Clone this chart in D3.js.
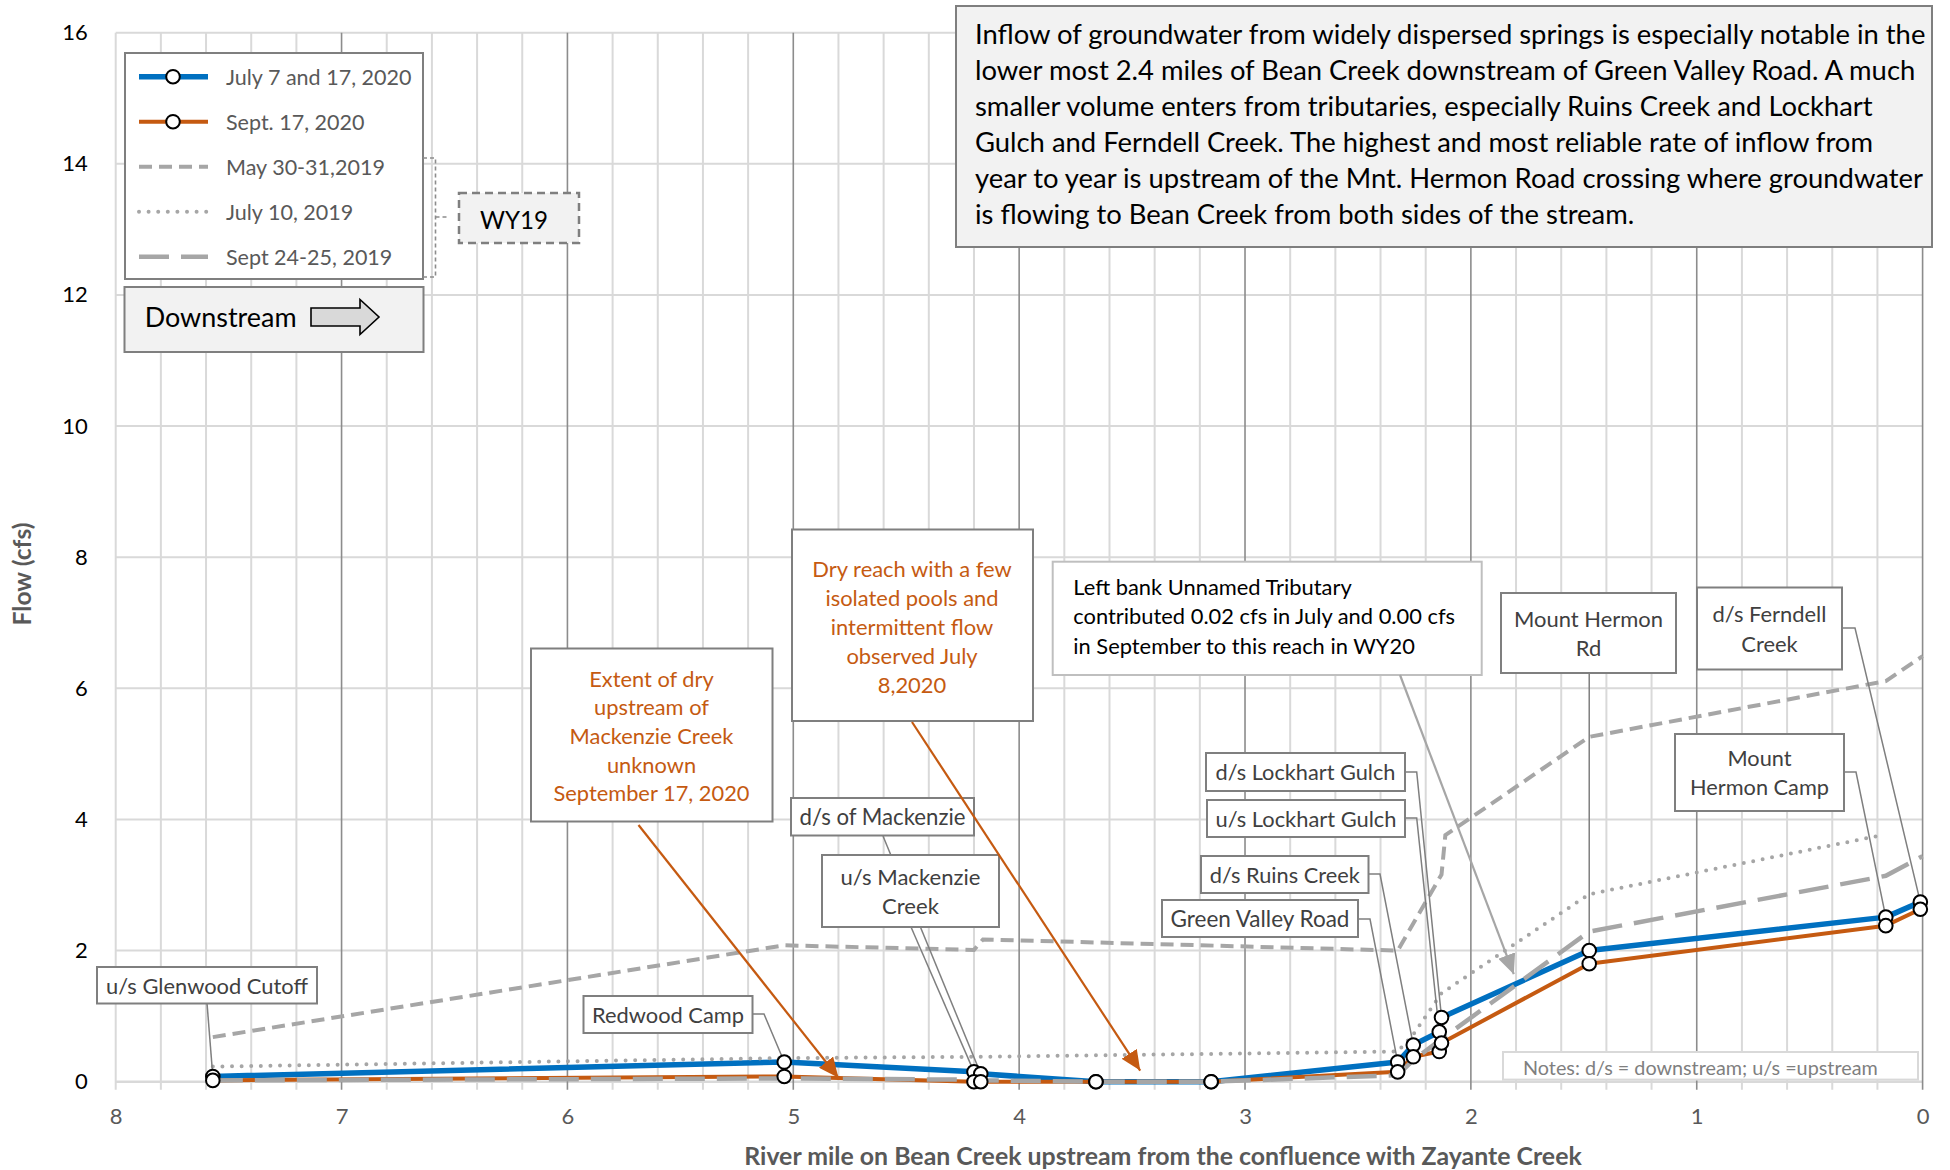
<!DOCTYPE html>
<html>
<head>
<meta charset="utf-8">
<script src="https://cdn.jsdelivr.net/npm/d3@7"></script>
<style>
  html, body { margin: 0; padding: 0; background: #fff; }
  svg { display: block; font-family: Lato, "Open Sans", sans-serif; }
</style>
</head>
<body>
<svg id="chart" width="1950" height="1170"></svg>
<script>
// ---- Data: Bean Creek flow surveys (cfs) by river mile upstream of Zayante Creek ----

// 2020 measurement sites (river mile)
const siteMiles2020 = [7.57, 5.04, 4.20, 4.17, 3.66, 3.15, 2.324, 2.255, 2.14, 2.13, 1.476, 0.163, 0.01];
// July 7 and 17, 2020
const flowJuly2020 = [0.08, 0.30, 0.15, 0.12, 0.00, 0.00, 0.30, 0.56, 0.76, 0.98, 2.00, 2.51, 2.74];
// Sept. 17, 2020
const flowSept2020 = [0.02, 0.08, 0.00, 0.00, 0.00, 0.00, 0.15, 0.38, 0.46, 0.59, 1.80, 2.38, 2.63];

// WY19 surveys
const milesMay2019 = [7.57, 5.04, 4.20, 4.16, 2.324, 2.13, 2.113, 1.476, 0.163, 0.0];
const flowMay2019  = [0.68, 2.08, 2.01, 2.17, 2.00, 3.16, 3.76, 5.26, 6.11, 6.49];

const milesJul2019 = [7.57, 5.04, 4.17, 2.324, 2.255, 2.13, 1.476, 0.18];
const flowJul2019  = [0.23, 0.36, 0.38, 0.46, 0.72, 1.35, 2.86, 3.76];

const milesSep2019 = [7.57, 5.04, 4.20, 4.17, 3.66, 3.15, 2.324, 2.255, 2.13, 1.476, 0.163, 0.0];
const flowSep2019  = [0.02, 0.05, 0.03, 0.02, 0.00, 0.00, 0.10, 0.33, 0.65, 2.29, 3.14, 3.44];

// Legend labels
const seriesNames = ["July 7 and 17, 2020", "Sept. 17, 2020", "May 30-31,2019", "July 10, 2019", "Sept 24-25, 2019"];

// Axis ticks
const xTicks = [8, 7, 6, 5, 4, 3, 2, 1, 0];
const yTicks = [0, 2, 4, 6, 8, 10, 12, 14, 16];

// Site names for the 2020 sampling locations (index into siteMiles2020)
const siteLabels = [
  { site: 0,  lines: ["u/s Glenwood Cutoff"] },
  { site: 1,  lines: ["Redwood Camp"] },
  { site: 3,  lines: ["d/s of Mackenzie"] },
  { site: 2,  lines: ["u/s Mackenzie", "Creek"] },
  { site: 6,  lines: ["Green Valley Road"] },
  { site: 7,  lines: ["d/s Ruins Creek"] },
  { site: 8,  lines: ["u/s Lockhart Gulch"] },
  { site: 9,  lines: ["d/s Lockhart Gulch"] },
  { site: 10, lines: ["Mount Hermon", "Rd"] },
  { site: 12, lines: ["d/s Ferndell", "Creek"] },
  { site: 11, lines: ["Mount", "Hermon Camp"] }
];

const summaryText = [
  "Inflow of groundwater from widely dispersed springs is especially notable in the",
  "lower most 2.4 miles of Bean Creek downstream of Green Valley Road. A much",
  "smaller volume enters from tributaries, especially Ruins Creek and Lockhart",
  "Gulch and Ferndell Creek. The highest and most reliable rate of inflow from",
  "year to year is upstream of the Mnt. Hermon Road crossing where groundwater",
  "is flowing to Bean Creek from both sides of the stream."
];
const dryExtentText = ["Extent of dry", "upstream of", "Mackenzie Creek", "unknown", "September 17, 2020"];
const dryReachText = ["Dry reach with a few", "isolated pools and", "intermittent flow", "observed July", "8,2020"];
const tributaryText = ["Left bank Unnamed Tributary", "contributed 0.02 cfs in July and 0.00 cfs", "in September to this reach in WY20"];
const notesText = "Notes: d/s = downstream; u/s =upstream";

// ---- Layout ----
const svg = d3.select("#chart");
const x = d3.scaleLinear().domain([8, 0]).range([115.7, 1922.6]);
const y = d3.scaleLinear().domain([0, 16]).range([1081.7, 32.7]);

const BLUE = "#0070c0", ORANGE = "#c55a11", GRAY = "#a6a6a6";
const GRID = "#d9d9d9", MAJOR = "#8c8c8c", BORDER = "#7f7f7f";

svg.append("rect").attr("width", 1950).attr("height", 1170).attr("fill", "#fff");

// arrowheads
const defs = svg.append("defs");
function arrowDef(id, color) {
  defs.append("marker").attr("id", id)
    .attr("markerUnits", "userSpaceOnUse")
    .attr("markerWidth", 22).attr("markerHeight", 18)
    .attr("refX", 20).attr("refY", 9).attr("orient", "auto")
    .append("path").attr("d", "M0,0 L20,9 L0,18 Z").attr("fill", color);
}
arrowDef("arrowOrange", ORANGE);
arrowDef("arrowGray", GRAY);

// ---- Text helper: lines centred vertically on y, optionally scaled so the widest line spans `fit` px ----
function textBlock(g, lines, o) {
  const t = g.selectAll(null).data(lines).join("text")
    .attr("x", o.x).attr("y", (d, i) => o.y + i * o.dy)
    .attr("text-anchor", o.anchor || "start")
    .attr("dominant-baseline", "central")
    .attr("font-size", o.size).attr("fill", o.fill || "#000")
    .attr("font-weight", o.weight || 400)
    .attr("transform", o.rotate ? `rotate(${o.rotate},${o.x},${o.y})` : null)
    .text(d => d);
  if (o.fit) {
    const w = d3.max(t.nodes(), n => n.getComputedTextLength());
    t.attr("font-size", o.size * o.fit / w);
  }
  return t;
}
function box(g, b, fill, stroke, sw, dash) {
  return g.append("rect").attr("x", b[0]).attr("y", b[1]).attr("width", b[2]).attr("height", b[3])
    .attr("fill", fill).attr("stroke", stroke).attr("stroke-width", sw || 2)
    .attr("stroke-dasharray", dash || null);
}

// ---- Grid ----
const grid = svg.append("g");
const minorMiles = d3.range(0, 41).map(i => +(i * 0.2).toFixed(1));
grid.selectAll("line.minor").data(minorMiles.filter(m => !Number.isInteger(m) || m === 8))
  .join("line").attr("class", "minor")
  .attr("x1", d => x(d)).attr("x2", d => x(d))
  .attr("y1", y(16)).attr("y2", y(0) + 8)
  .attr("stroke", GRID).attr("stroke-width", 2);
grid.selectAll("line.h").data(yTicks).join("line").attr("class", "h")
  .attr("x1", x(8)).attr("x2", x(0))
  .attr("y1", d => y(d)).attr("y2", d => y(d))
  .attr("stroke", GRID).attr("stroke-width", d => d === 0 ? 2.5 : 2);
grid.selectAll("line.major").data(xTicks.filter(m => m !== 8))
  .join("line").attr("class", "major")
  .attr("x1", d => x(d)).attr("x2", d => x(d))
  .attr("y1", y(16)).attr("y2", y(0) + 8)
  .attr("stroke", MAJOR).attr("stroke-width", 1.6);

// ---- Axes (labels only) ----
const xAxis = svg.append("g").attr("transform", `translate(0,${y(0) + 24})`)
  .call(d3.axisBottom(x).tickValues(xTicks).tickSize(0).tickFormat(d3.format("d")));
xAxis.select(".domain").remove();
xAxis.selectAll("text").attr("font-size", 22).attr("font-family", "Lato").attr("fill", "#595959");

const yAxis = svg.append("g").attr("transform", `translate(${x(8) - 25},0)`)
  .call(d3.axisLeft(y).tickValues(yTicks).tickSize(0).tickFormat(d3.format("d")));
yAxis.select(".domain").remove();
yAxis.selectAll("text").attr("font-size", 22).attr("font-family", "Lato").attr("fill", "#000");

const titles = svg.append("g");
textBlock(titles, ["River mile on Bean Creek upstream from the confluence with Zayante Creek"],
  { x: 1163, y: 1155, dy: 0, anchor: "middle", size: 22, weight: 700, fill: "#595959", fit: 838 });
textBlock(titles, ["Flow (cfs)"],
  { x: 21, y: 574, dy: 0, anchor: "middle", size: 22, weight: 700, fill: "#595959", fit: 103, rotate: -90 });

// ---- Series ----
const line = d3.line().x(d => x(d[0])).y(d => y(d[1]));
const zip = (a, b) => a.map((v, i) => [v, b[i]]);

const series = svg.append("g").attr("fill", "none");
series.append("path").attr("d", line(zip(siteMiles2020, flowJuly2020)))
  .attr("stroke", BLUE).attr("stroke-width", 5.5).attr("stroke-linejoin", "round");
series.append("path").attr("d", line(zip(siteMiles2020, flowSept2020)))
  .attr("stroke", ORANGE).attr("stroke-width", 4).attr("stroke-linejoin", "round");
series.append("path").attr("d", line(zip(milesMay2019, flowMay2019)))
  .attr("stroke", GRAY).attr("stroke-width", 4).attr("stroke-dasharray", "13,7");
series.append("path").attr("d", line(zip(milesJul2019, flowJul2019)))
  .attr("stroke", GRAY).attr("stroke-width", 4).attr("stroke-linecap", "round")
  .attr("stroke-dasharray", "0,9.6");
series.append("path").attr("d", line(zip(milesSep2019, flowSep2019)))
  .attr("stroke", GRAY).attr("stroke-width", 4.5).attr("stroke-dasharray", "30,12");

// ---- Site callouts: leader lines, then markers, then boxes ----
const calloutLayout = [
  { box: [97, 967, 220, 36.5],   via: [[207, 1003]],               fit: 202 },
  { box: [583.5, 996, 169, 37],  via: [[752.6, 1014], [764, 1014]], fit: 152 },
  { box: [791, 798, 183, 37.5],  via: [[883, 836]],                fit: 166 },
  { box: [822, 855, 177, 72],    via: [[911, 927]],                fit: 140 },
  { box: [1162, 900, 196, 37],   via: [[1358, 919], [1370, 919]],  fit: 179 },
  { box: [1201, 856, 167.5, 37], via: [[1368.7, 874], [1380, 874]], fit: 150 },
  { box: [1207, 800, 198, 37],   via: [[1405, 818], [1416.7, 818]], fit: 181 },
  { box: [1206, 753, 199, 38],   via: [[1405, 772], [1416.7, 772]], fit: 180 },
  { box: [1501, 593, 175, 80],   via: "down",                       fit: 149 },
  { box: [1697, 587.5, 145, 82], via: [[1842, 628], [1855, 628]],   fit: 114 },
  { box: [1675, 734, 169, 77],   via: [[1843.7, 772], [1856, 772]], fit: 139 }
];

const leaders = svg.append("g").attr("fill", "none").attr("stroke", BORDER).attr("stroke-width", 1.5);
siteLabels.forEach((s, i) => {
  const L = calloutLayout[i];
  const end = [x(siteMiles2020[s.site]), y(flowJuly2020[s.site])];
  const pts = L.via === "down" ? [[end[0], L.box[1] + L.box[3]]] : L.via;
  leaders.append("path").attr("d", d3.line()([...pts, end]));
});

// markers for both 2020 series
const markers = svg.append("g");
[flowJuly2020, flowSept2020].forEach(flows => {
  markers.selectAll(null).data(zip(siteMiles2020, flows)).join("circle")
    .attr("cx", d => x(d[0])).attr("cy", d => y(d[1])).attr("r", 6.8)
    .attr("fill", "#fff").attr("stroke", "#000").attr("stroke-width", 2);
});

const labels = svg.append("g");
siteLabels.forEach((s, i) => {
  const L = calloutLayout[i];
  const b = L.box;
  box(labels, b, "#fff", BORDER, 2);
  const dy = 29.5;
  const y0 = b[1] + b[3] / 2 - (s.lines.length - 1) * dy / 2;
  textBlock(labels, s.lines, { x: b[0] + b[2] / 2, y: y0, dy, anchor: "middle", size: 20, fill: "#404040", fit: L.fit });
});

// ---- Annotation boxes ----
const notes = svg.append("g");
box(notes, [956, 6, 976, 241], "#f2f2f2", BORDER, 2);
textBlock(notes, summaryText, { x: 975, y: 33.6, dy: 36.06, size: 24, fill: "#000", fit: 951 });

box(notes, [531, 648.5, 241.5, 173], "#fff", BORDER, 2);
textBlock(notes, dryExtentText, { x: 651.5, y: 678, dy: 28.7, anchor: "middle", size: 20, fill: ORANGE, fit: 196 });

box(notes, [792, 529.5, 241, 191.5], "#fff", BORDER, 2);
textBlock(notes, dryReachText, { x: 912, y: 568.3, dy: 29, anchor: "middle", size: 20, fill: ORANGE, fit: 199.5 });

box(notes, [1052.7, 561.7, 429, 113.3], "#fff", "#bfbfbf", 2);
textBlock(notes, tributaryText, { x: 1073.3, y: 586.7, dy: 29.2, size: 20, fill: "#000", fit: 382 });

box(notes, [1503, 1052, 415, 27.6], "#fff", GRID, 2);
textBlock(notes, [notesText], { x: 1523, y: 1066.5, dy: 0, size: 18, fill: "#7f7f7f", fit: 355 });

// ---- Legend ----
const legend = svg.append("g");
box(legend, [125, 53, 298, 226], "#fff", BORDER, 2);
const legendRows = [76.7, 121.7, 166.7, 211.7, 256.7];
const legendStyles = [
  { stroke: BLUE, w: 5.5, dash: null, marker: true },
  { stroke: ORANGE, w: 4, dash: null, marker: true },
  { stroke: GRAY, w: 4, dash: "13,7", marker: false },
  { stroke: GRAY, w: 4, dash: "0,9.6", cap: "round", marker: false },
  { stroke: GRAY, w: 4.5, dash: "30,12", marker: false }
];
seriesNames.forEach((name, i) => {
  const st = legendStyles[i], ly = legendRows[i];
  legend.append("line").attr("x1", 139).attr("x2", 208).attr("y1", ly).attr("y2", ly)
    .attr("stroke", st.stroke).attr("stroke-width", st.w)
    .attr("stroke-dasharray", st.dash).attr("stroke-linecap", st.cap || "butt");
  if (st.marker) legend.append("circle").attr("cx", 173).attr("cy", ly).attr("r", 6.8)
    .attr("fill", "#fff").attr("stroke", "#000").attr("stroke-width", 2);
});
const legendText = textBlock(legend, seriesNames, { x: 226, y: legendRows[0], dy: 45, size: 20, fill: "#595959" });
{
  const w0 = legendText.nodes()[0].getComputedTextLength();
  legendText.attr("font-size", 20 * 185.6 / w0);
}

// WY19 bracket and tag
legend.append("path").attr("d", "M423,158 H435.5 V277 H423 M435.5,217 H448")
  .attr("fill", "none").attr("stroke", "#8c8c8c").attr("stroke-width", 1.6).attr("stroke-dasharray", "4,3");
box(legend, [459, 193, 120, 50], "#f2f2f2", BORDER, 2.5, "8,5");
textBlock(legend, ["WY19"], { x: 514, y: 219, dy: 0, anchor: "middle", size: 24, fill: "#000", fit: 68 });

// Downstream direction box
box(legend, [124.5, 287, 299, 65], "#f2f2f2", BORDER, 2);
textBlock(legend, ["Downstream"], { x: 144.7, y: 316, dy: 0, size: 26, fill: "#000", fit: 152 });
legend.append("path")
  .attr("d", "M311,308 H360 V299.5 L379,317 L360,334.5 V326 H311 Z")
  .attr("fill", "#d9d9d9").attr("stroke", "#000").attr("stroke-width", 1.6);

// ---- Arrows pointing into the dry reaches and the tributary ----
const arrows = svg.append("g").attr("fill", "none");
arrows.append("path").attr("d", d3.line()([[638.5, 825], [x(4.80), y(0.06)]]))
  .attr("stroke", ORANGE).attr("stroke-width", 2.2).attr("marker-end", "url(#arrowOrange)");
arrows.append("path").attr("d", d3.line()([[912, 722], [x(3.464), y(0.17)]]))
  .attr("stroke", ORANGE).attr("stroke-width", 2.2).attr("marker-end", "url(#arrowOrange)");
arrows.append("path").attr("d", d3.line()([[1400, 675], [x(1.81), y(1.64)]]))
  .attr("stroke", GRAY).attr("stroke-width", 2.2).attr("marker-end", "url(#arrowGray)");
</script>
</body>
</html>
